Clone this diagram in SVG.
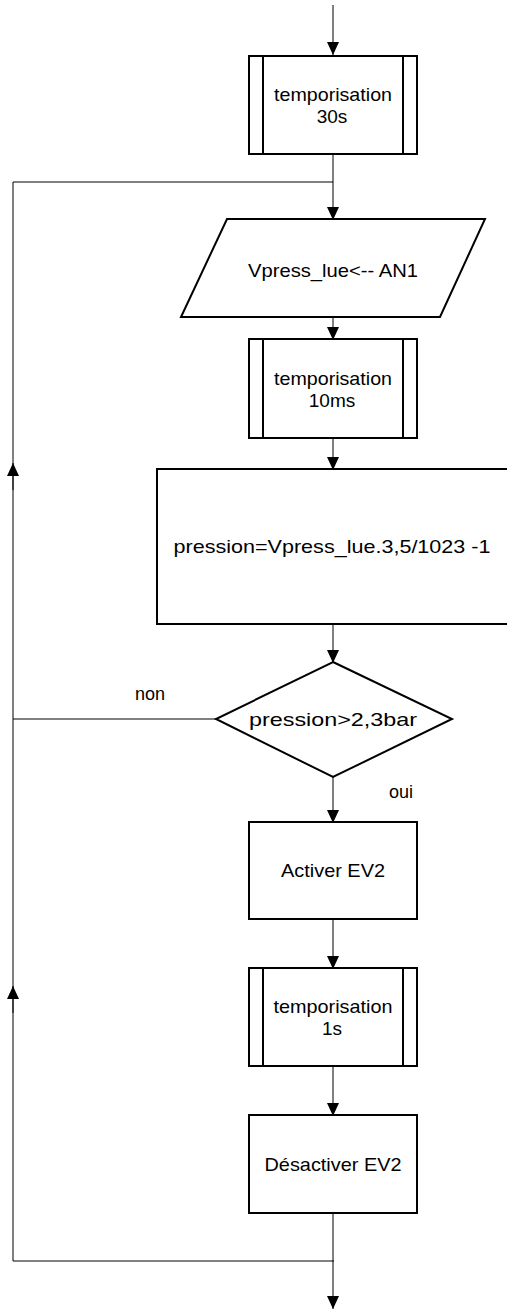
<svg xmlns="http://www.w3.org/2000/svg" width="507" height="1309" viewBox="0 0 507 1309">
<style>
.s{fill:#fff;stroke:#000;stroke-width:2}
.l{fill:none;stroke:#000;stroke-width:1}
.a{fill:none;stroke:#000;stroke-width:1;marker-end:url(#ah)}
.t{font-family:"Liberation Sans",Arial,sans-serif;font-size:19px;fill:#000;text-anchor:middle}
.lb{font-family:"Liberation Sans",Arial,sans-serif;font-size:18px;fill:#000}
</style>
<defs>
<marker id="ah" markerWidth="13" markerHeight="12" refX="13" refY="6" orient="auto" markerUnits="userSpaceOnUse" viewBox="0 0 13 12">
<path d="M0,0 L13,6 L0,12 Z" fill="#000"/>
</marker>
</defs>
<g id="connectors">
<line class="a" x1="333" y1="5" x2="333" y2="55"/>
<line class="a" x1="333" y1="154" x2="333" y2="220"/>
<polyline class="l" points="333,182 13,182 13,1261 334,1261"/>
<line class="a" x1="13" y1="490" x2="13" y2="463"/>
<line class="a" x1="13" y1="1013" x2="13" y2="986"/>
<line class="a" x1="333" y1="317" x2="333" y2="340"/>
<line class="a" x1="333" y1="438" x2="333" y2="470"/>
<line class="a" x1="333" y1="624" x2="333" y2="663"/>
<line class="l" x1="216" y1="719" x2="13" y2="719"/>
<line class="a" x1="333" y1="777" x2="333" y2="823"/>
<line class="a" x1="333" y1="919" x2="333" y2="969"/>
<line class="a" x1="333" y1="1066" x2="333" y2="1116"/>
<line class="a" x1="333" y1="1213" x2="333" y2="1309"/>
<text class="lb" x="135" y="700">non</text>
<text class="lb" x="389" y="798">oui</text>
</g>
<g id="tempo30">
<rect class="s" x="249" y="56" width="168" height="98"/>
<line class="s" x1="263" y1="56" x2="263" y2="154"/><line class="s" x1="403" y1="56" x2="403" y2="154"/>
<text class="t" x="333" y="101" textLength="118" lengthAdjust="spacingAndGlyphs">temporisation</text>
<text class="t" x="332" y="123">30s</text>
</g>
<g id="lecture">
<polygon class="s" points="227,219 485,219 440,317 181,317"/>
<text class="t" x="333" y="277" textLength="170" lengthAdjust="spacingAndGlyphs">Vpress_lue&lt;-- AN1</text>
</g>
<g id="tempo10">
<rect class="s" x="249" y="339" width="168" height="99"/>
<line class="s" x1="263" y1="339" x2="263" y2="438"/><line class="s" x1="403" y1="339" x2="403" y2="438"/>
<text class="t" x="333" y="385" textLength="118" lengthAdjust="spacingAndGlyphs">temporisation</text>
<text class="t" x="332" y="407">10ms</text>
</g>
<g id="calcul">
<rect class="s" x="157" y="469" width="360" height="155"/>
<text class="t" x="332" y="553" textLength="317" lengthAdjust="spacingAndGlyphs">pression=Vpress_lue.3,5/1023 -1</text>
</g>
<g id="test">
<polygon class="s" points="333,662 452,719 333,777 216,719"/>
<text class="t" x="333" y="726" textLength="168" lengthAdjust="spacingAndGlyphs">pression&gt;2,3bar</text>
</g>
<g id="activer">
<rect class="s" x="249" y="822" width="168" height="97"/>
<text class="t" x="333" y="877" textLength="104" lengthAdjust="spacingAndGlyphs">Activer EV2</text>
</g>
<g id="tempo1">
<rect class="s" x="249" y="968" width="168" height="98"/>
<line class="s" x1="263" y1="968" x2="263" y2="1066"/><line class="s" x1="403" y1="968" x2="403" y2="1066"/>
<text class="t" x="333" y="1013" textLength="119" lengthAdjust="spacingAndGlyphs">temporisation</text>
<text class="t" x="332" y="1035">1s</text>
</g>
<g id="desactiver">
<rect class="s" x="249" y="1115" width="168" height="98"/>
<text class="t" x="333" y="1171" textLength="137" lengthAdjust="spacingAndGlyphs">Désactiver EV2</text>
</g>
</svg>
